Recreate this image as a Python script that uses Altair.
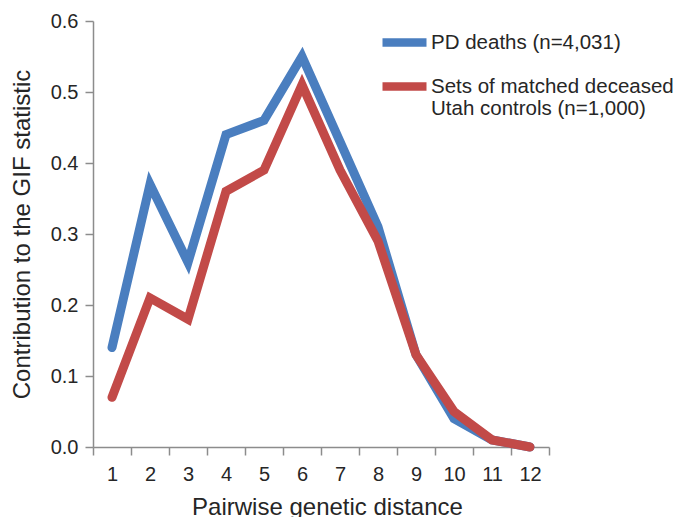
import altair as alt
import pandas as pd

distance = list(range(1, 13))
pd_deaths = [0.14, 0.37, 0.26, 0.44, 0.46, 0.55, 0.43, 0.31, 0.13, 0.04, 0.01, 0.00]
controls = [0.07, 0.21, 0.18, 0.36, 0.39, 0.51, 0.39, 0.29, 0.13, 0.05, 0.01, 0.00]
series_names = ["PD deaths (n=4,031)", "Sets of matched deceased\nUtah controls (n=1,000)"]
series_colors = ["#4a7ebf", "#c24a48"]
y_ticks = [0.0, 0.1, 0.2, 0.3, 0.4, 0.5, 0.6]

rows = []
for d, v in zip(distance, pd_deaths):
    rows.append({"distance": d, "value": v, "series": series_names[0]})
for d, v in zip(distance, controls):
    rows.append({"distance": d, "value": v, "series": series_names[1]})
df = pd.DataFrame(rows)

FONT = "Liberation Sans"
TEXT = "#262626"
AX = "#8c8c8c"

chart = alt.Chart(df).mark_line(strokeWidth=9, strokeCap="round").encode(
    x=alt.X(
        "distance:O",
        scale=alt.Scale(type="band", paddingInner=0, paddingOuter=0),
        axis=alt.Axis(
            title="Pairwise genetic distance",
            tickBand="extent",
            labelAngle=0,
            labelFontSize=20,
            labelPadding=9,
            tickSize=8,
            titleFontSize=24,
            titleFontWeight="normal",
            titlePadding=11,
            titleX=234,
            titleAnchor="middle",
        ),
    ),
    y=alt.Y(
        "value:Q",
        scale=alt.Scale(domain=[0, 0.6], nice=False),
        axis=alt.Axis(
            title="Contribution to the GIF statistic",
            values=y_ticks,
            format=".1f",
            labelFontSize=20,
            labelPadding=7,
            tickSize=8,
            grid=False,
            titleFontSize=24,
            titleFontWeight="normal",
            titlePadding=16,
        ),
    ),
    color=alt.Color(
        "series:N",
        scale=alt.Scale(domain=series_names, range=series_colors),
        legend=alt.Legend(
            title=None,
            orient="none",
            legendX=285,
            legendY=-5,
            gridAlign="each",
            symbolType="stroke",
            symbolSize=1936,
            symbolStrokeWidth=8.5,
            labelFontSize=20.5,
            labelLimit=400,
            labelOffset=0,
            rowPadding=-12,
            labelExpr="split(datum.label, '\\n')",
        ),
    ),
).properties(
    width=456,
    height=426,
    autosize=alt.AutoSizeParams(type="none"),
    padding={"left": 85, "top": 13, "right": 129, "bottom": 80},
).configure_view(
    stroke=None
).configure_axis(
    labelFont=FONT,
    titleFont=FONT,
    labelColor=TEXT,
    titleColor=TEXT,
    domainColor=AX,
    tickColor=AX,
    domainWidth=1.5,
    tickWidth=1.5,
).configure_legend(
    labelFont=FONT,
    labelColor=TEXT,
)

chart.save("out.html", embed_options={"renderer": "svg", "actions": False})
